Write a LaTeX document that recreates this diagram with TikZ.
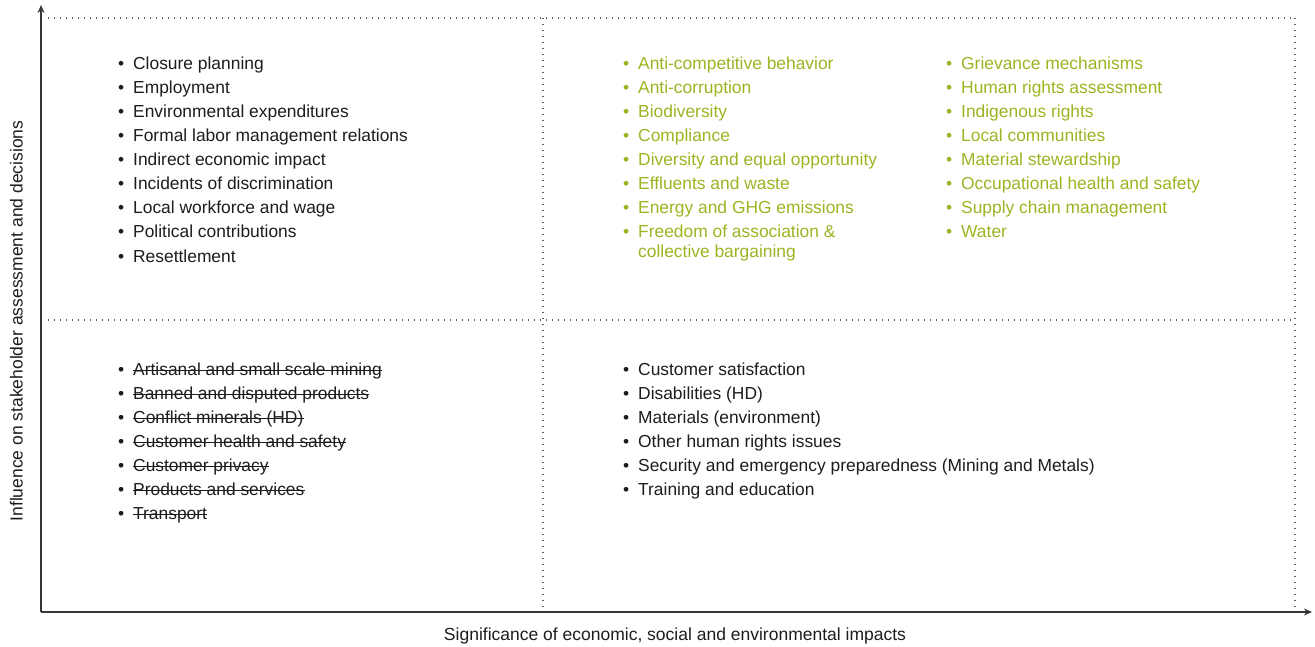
\documentclass[tikz,border=0pt]{standalone}
\usepackage{fontspec}
\setmainfont{Liberation Sans}
\usetikzlibrary{arrows.meta}
\definecolor{txt}{RGB}{30,28,28}
\definecolor{grn}{RGB}{156,180,34}
\definecolor{dotc}{RGB}{95,95,95}
\definecolor{axc}{RGB}{55,55,55}
\newcommand{\bul}[1]{\makebox[15pt][l]{•}#1}
\begin{document}
\begin{tikzpicture}[x=1pt,y=-1pt,
  itm/.style={anchor=base west,inner sep=0pt,font=\fontsize{17.4}{20}\selectfont,text=txt},
  gitm/.style={itm,text=grn},
  dotline/.style={dotc,line width=1.1pt,dash pattern=on 1.1pt off 4.9pt},
  axis/.style={axc,line width=1.3pt,-{Stealth[length=8pt,width=7pt]}},
  strike/.style={txt,line width=0.85pt},
  axlabel/.style={inner sep=0pt,font=\fontsize{17.5}{20}\selectfont,text=txt}]
\useasboundingbox (0,0) rectangle (1315,647);
% frame coordinates
\coordinate (O) at (41,612);
\coordinate (Ytop) at (41,5);
\coordinate (Xend) at (1312,612);
\coordinate (TL) at (48,18);
\coordinate (TR) at (1295,18);
\coordinate (BR) at (1295,610);
\coordinate (MT) at (543,18);
\coordinate (MB) at (543,610);
\coordinate (ML) at (48,320);
\coordinate (MR) at (1295,320);
% dotted grid
\draw[dotline] (TL) -- (TR);
\draw[dotline] (TR) -- (BR);
\draw[dotline] (MT) -- (MB);
\draw[dotline] (ML) -- (MR);
% axes
\draw[axis] (O) -- (Ytop);
\draw[axis] (O) -- (Xend);
\node[axlabel,anchor=base] (xlab) at (675,640) {Significance of economic, social and environmental impacts};
\node[axlabel,anchor=base,rotate=90] (ylab) at (22.5,321) {Influence on stakeholder assessment and decisions};
% top-left
\foreach \t [count=\i] in {Closure planning,Employment,Environmental expenditures,Formal labor management relations,Indirect economic impact,Incidents of discrimination,Local workforce and wage,Political contributions,Resettlement}
  \node[itm] (tl\i) at (118,{70+24*(\i-1)}) {\bul{\t}};
% top-right col 1
\foreach \t [count=\i] in {Anti-competitive behavior,Anti-corruption,Biodiversity,Compliance,Diversity and equal opportunity,Effluents and waste,Energy and GHG emissions,Freedom of association \&}
  \node[gitm] (ga\i) at (623,{70+24*(\i-1)}) {\bul{\t}};
\node[gitm] (ga9) at (638,258) {collective bargaining};
% top-right col 2
\foreach \t [count=\i] in {Grievance mechanisms,Human rights assessment,Indigenous rights,Local communities,Material stewardship,Occupational health and safety,Supply chain management,Water}
  \node[gitm] (gb\i) at (946,{70+24*(\i-1)}) {\bul{\t}};
% bottom-left (struck out)
\foreach \t [count=\i] in {Artisanal and small scale mining,Banned and disputed products,Conflict minerals (HD),Customer health and safety,Customer privacy,Products and services,Transport}{
  \node[itm] (blb\i) at (118,{375+24*(\i-1)}) {•};
  \node[itm] (bl\i) at (133,{375+24*(\i-1)}) {\t};
  \draw[strike] ([yshift=4.8pt]bl\i.base west) -- ([yshift=4.8pt]bl\i.base east);
}
% bottom-right
\foreach \t [count=\i] in {Customer satisfaction,Disabilities (HD),Materials (environment),Other human rights issues,Security and emergency preparedness (Mining and Metals),Training and education}
  \node[itm] (br\i) at (623,{375+24*(\i-1)}) {\bul{\t}};
\end{tikzpicture}
\end{document}
